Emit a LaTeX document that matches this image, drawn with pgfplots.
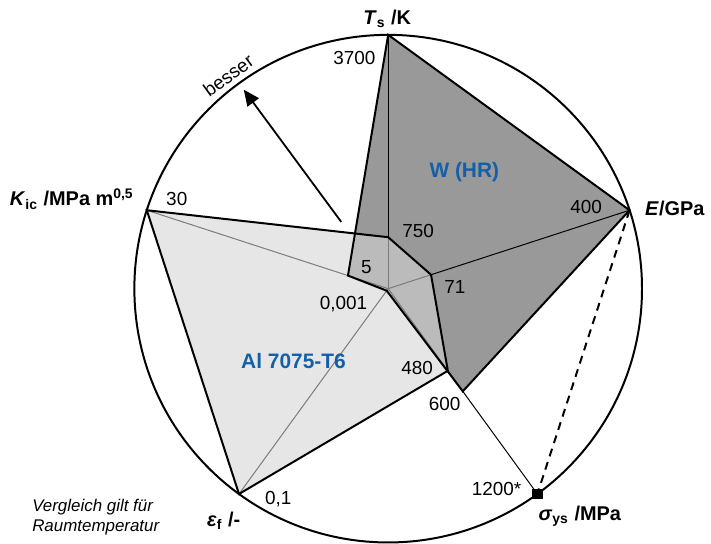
\documentclass[border=0pt]{standalone}
\usepackage{pgfplots}
\pgfplotsset{compat=1.18}
\usepackage{pgfplotstable}
\usepackage{fontspec}
\setmainfont{Liberation Sans}
\usetikzlibrary{arrows.meta}

\definecolor{wfill}{RGB}{153,153,153}
\definecolor{alfill}{RGB}{212,212,212}
\definecolor{lblue}{RGB}{20,96,168}

% angle (deg), value, axis maximum
\pgfplotstableread{
angle value max
90 750 3700
18 71 400
-54 480 1200
-126 0.1 0.1
162 30 30
}\Al
\pgfplotstableread{
angle value max
90 3700 3700
18 400 400
-54 600 1200
-126 0.001 0.1
162 5 30
}\W
\pgfplotstableread{
angle value max
18 400 400
-54 1200 1200
}\Dash

\newcommand{\num}{\fontsize{9.5}{11}\selectfont}
\newcommand{\lab}{\fontsize{10}{12}\selectfont\bfseries}

\begin{document}
\begin{tikzpicture}
\begin{axis}[
  scale only axis, width=355.5pt, height=272pt,
  xmin=-1.5294, xmax=1.2588, ymin=-0.9961, ymax=1.1373,
  hide axis, clip=false,
]
\path (rel axis cs:0,0) rectangle (rel axis cs:1,1);
% W polygon fill
\addplot[draw=none, fill=wfill]
  table[x expr={\thisrow{value}/\thisrow{max}*cos(\thisrow{angle})},
        y expr={\thisrow{value}/\thisrow{max}*sin(\thisrow{angle})}] {\W} -- cycle;
% spokes
\addplot[black, line width=0.5pt] coordinates {(0,0) (0,1)};
\addplot[black, line width=0.5pt] coordinates {(0,0) (0.95106,0.30902)};
\addplot[black, line width=0.5pt] coordinates {(0,0) (0.58779,-0.80902)};
\addplot[black, line width=0.5pt] coordinates {(0,0) (-0.58779,-0.80902)};
\addplot[black, line width=0.5pt] coordinates {(0,0) (-0.95106,0.30902)};
% Al polygon fill (transparent)
\addplot[draw=none, fill=alfill, fill opacity=0.58]
  table[x expr={\thisrow{value}/\thisrow{max}*cos(\thisrow{angle})},
        y expr={\thisrow{value}/\thisrow{max}*sin(\thisrow{angle})}] {\Al} -- cycle;
% outlines
\addplot[black, line width=1pt, line join=miter]
  table[x expr={\thisrow{value}/\thisrow{max}*cos(\thisrow{angle})},
        y expr={\thisrow{value}/\thisrow{max}*sin(\thisrow{angle})}] {\W} -- cycle;
\addplot[black, line width=1pt, line join=miter]
  table[x expr={\thisrow{value}/\thisrow{max}*cos(\thisrow{angle})},
        y expr={\thisrow{value}/\thisrow{max}*sin(\thisrow{angle})}] {\Al} -- cycle;
% circle
\draw[black, line width=1pt] (axis cs:0,0) circle[radius=1];
% dashed line and marker
\addplot[black, line width=1pt, dash pattern=on 4pt off 3pt]
  table[x expr={\thisrow{value}/\thisrow{max}*cos(\thisrow{angle})},
        y expr={\thisrow{value}/\thisrow{max}*sin(\thisrow{angle})}] {\Dash};
\addplot[only marks, mark=square*, mark size=2.3pt, black]
  coordinates {(0.58779,-0.80902)};
% arrow
\draw[-{Triangle[length=8pt,width=7pt]}, line width=0.9pt]
  (axis cs:-0.185,0.263) -- (axis cs:-0.569,0.784);
\node[rotate=36, inner sep=0pt] at (axis cs:-0.630,0.840) {\num besser};

% axis titles
\node at (axis cs:-0.004,1.063) {\lab\textit{T}\textsubscript{s} /K};
\node[anchor=west] at (axis cs:0.985,0.314) {\lab\textit{E}/GPa};
\node[anchor=east] at (axis cs:-0.975,0.353) {\lab\textit{K}\textsubscript{ic} /MPa m\textsuperscript{0,5}};
\node[anchor=east] at (axis cs:-0.555,-0.915) {\lab\textit{ε}\textsubscript{f} /-};
\node at (axis cs:0.755,-0.895) {\lab\textit{σ}\textsubscript{ys} /MPa};

% numbers
\node at (axis cs:-0.133,0.908) {\num 3700};
\node at (axis cs:0.780,0.322) {\num 400};
\node at (axis cs:-0.833,0.353) {\num 30};
\node at (axis cs:-0.433,-0.830) {\num 0,1};
\node at (axis cs:0.427,-0.788) {\num 1200*};
\node at (axis cs:0.118,0.229) {\num 750};
\node at (axis cs:0.263,0.006) {\num 71};
\node at (axis cs:-0.086,0.084) {\num 5};
\node at (axis cs:-0.176,-0.062) {\num 0,001};
\node at (axis cs:0.114,-0.314) {\num 480};
\node at (axis cs:0.222,-0.453) {\num 600};

% material names
\node[text=lblue] at (axis cs:0.300,0.461) {\fontsize{10.5}{12}\selectfont\bfseries W (HR)};
\node[text=lblue] at (axis cs:-0.373,-0.286) {\fontsize{10.5}{12}\selectfont\bfseries Al 7075-T6};

% note
\node[anchor=west, align=left, font=\fontsize{8.5}{10}\selectfont\itshape]
  at (axis cs:-1.43,-0.900) {Vergleich gilt für\\Raumtemperatur};
\end{axis}
\end{tikzpicture}
\end{document}
